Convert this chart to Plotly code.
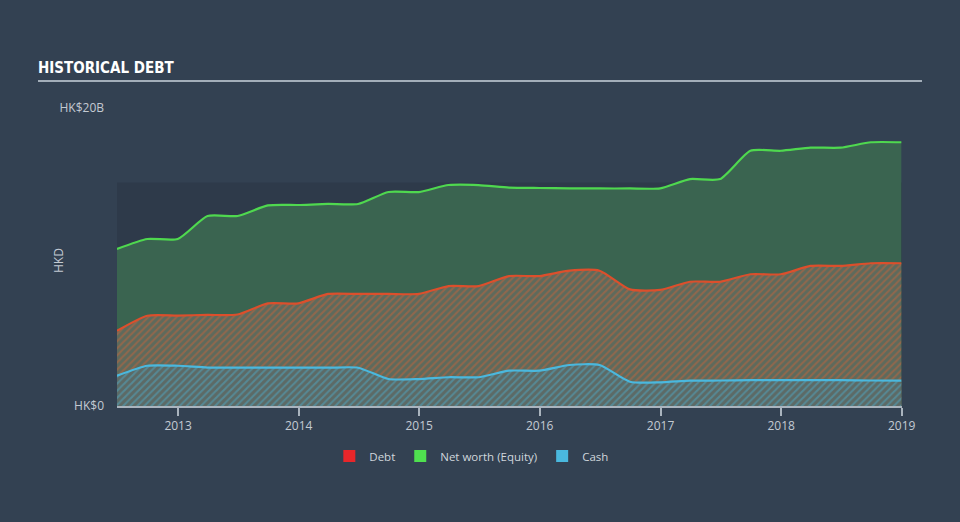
import plotly.graph_objects as go

dates = ["2012-06-30", "2012-09-30", "2012-12-31", "2013-03-31", "2013-06-30", "2013-09-30",
         "2013-12-31", "2014-03-31", "2014-06-30", "2014-09-30", "2014-12-31", "2015-03-31",
         "2015-06-30", "2015-09-30", "2015-12-31", "2016-03-31", "2016-06-30", "2016-09-30",
         "2016-12-31", "2017-03-31", "2017-06-30", "2017-09-30", "2017-12-31", "2018-03-31",
         "2018-06-30", "2018-09-30", "2018-12-31"]

# HK$ billions
equity = [10.54, 11.21, 11.21, 12.75, 12.75, 13.46, 13.49, 13.56, 13.56, 14.36, 14.36, 14.83,
          14.83, 14.66, 14.63, 14.61, 14.60, 14.60, 14.61, 15.23, 15.23, 17.13, 17.13, 17.34,
          17.34, 17.70, 17.70]
debt = [5.05, 6.06, 6.07, 6.11, 6.14, 6.89, 6.89, 7.52, 7.52, 7.52, 7.52, 8.05,
        8.05, 8.72, 8.72, 9.08, 9.08, 7.83, 7.79, 8.34, 8.34, 8.84, 8.84, 9.40,
        9.40, 9.58, 9.58]
cash = [2.03, 2.70, 2.70, 2.58, 2.57, 2.57, 2.57, 2.57, 2.57, 1.81, 1.81, 1.93,
        1.93, 2.37, 2.37, 2.75, 2.75, 1.63, 1.59, 1.70, 1.71, 1.73, 1.74, 1.74,
        1.74, 1.71, 1.70]

y_tickvals = [0, 20]
y_ticktext = ["HK$0", "HK$20B"]
x_tickvals = ["2013-01-01", "2014-01-01", "2015-01-01", "2016-01-01", "2017-01-01", "2018-01-01", "2019-01-01"]
x_ticktext = ["2013", "2014", "2015", "2016", "2017", "2018", "2019"]

legend_names = ["Debt", "Net worth (Equity)", "Cash"]
legend_colors = ["#e8262a", "#4fe04f", "#4ab8de"]

BG = "#334152"
PLOT_BG = "#2e3a4a"
TXT = "#c3cad2"
SMOOTH = 0.6

fig = go.Figure()

fig.add_trace(go.Scatter(
    x=dates, y=equity, mode="lines", line=dict(color="#4fd84f", width=2.2, shape="spline", smoothing=SMOOTH),
    fill="tozeroy", fillcolor="#3a6450", showlegend=False, hoverinfo="skip"))

fig.add_trace(go.Scatter(
    x=dates, y=debt, mode="lines", line=dict(color="#dc4f2c", width=2.2, shape="spline", smoothing=SMOOTH),
    fill="tozeroy",
    fillpattern=dict(shape="/", fgcolor="#c4643c", bgcolor="#5e6a5c", size=5, solidity=0.4),
    showlegend=False, hoverinfo="skip"))

fig.add_trace(go.Scatter(
    x=dates, y=cash, mode="lines", line=dict(color="#4ab8de", width=2.2, shape="spline", smoothing=SMOOTH),
    fill="tozeroy",
    fillpattern=dict(shape="/", fgcolor="#4fa8c4", bgcolor="#5c6a66", size=5, solidity=0.4),
    showlegend=False, hoverinfo="skip"))

for name, col in zip(legend_names, legend_colors):
    fig.add_trace(go.Scatter(x=[None], y=[None], mode="markers", name=name,
                             marker=dict(symbol="square", size=12, color=col)))

fig.update_layout(
    width=960, height=522,
    paper_bgcolor=BG, plot_bgcolor="rgba(0,0,0,0)",
    margin=dict(l=117, r=58, t=108, b=116),
    font=dict(family="Open Sans, Lato, sans-serif", color=TXT, size=12),
    title=dict(text="<b>HISTORICAL DEBT</b>", xref="container", yref="container",
               x=38 / 960, xanchor="left", y=1 - 68 / 522, yanchor="middle",
               font=dict(family="DejaVu Sans Condensed, Liberation Sans Narrow, sans-serif",
                         size=15, color="#ffffff")),
    showlegend=True,
    legend=dict(orientation="h", x=0.452, xanchor="center", y=-0.168, yanchor="middle",
                font=dict(size=11.5, color="#d0d6dc"), bgcolor="rgba(0,0,0,0)",
                itemsizing="trace", traceorder="normal"),
    xaxis=dict(type="date", range=["2012-06-30", "2019-01-02"], tickvals=x_tickvals,
               ticktext=x_ticktext, showgrid=False, zeroline=False,
               showline=True, linecolor="#aab4be", linewidth=1.5,
               ticks="outside", ticklen=8, tickcolor="#aab4be", tickwidth=1.5,
               tickfont=dict(size=12, color=TXT)),
    yaxis=dict(range=[0, 20], tickvals=y_tickvals, ticktext=y_ticktext, showgrid=False,
               zeroline=False, showline=False, ticks="", ticklabelstandoff=12,
               tickfont=dict(size=12, color=TXT)),
    annotations=[
        dict(text="HKD", xref="paper", yref="paper", x=(58 - 117) / 785, y=(406 - 261) / 298,
             xanchor="center", yanchor="middle", textangle=-90, showarrow=False,
             font=dict(size=12, color=TXT)),
    ],
    shapes=[
        dict(type="rect", xref="paper", yref="y", x0=0, x1=1, y0=0, y1=15,
             fillcolor=PLOT_BG, line=dict(width=0), layer="below"),
        dict(type="line", xref="paper", yref="paper", x0=(38 - 117) / 785, x1=(922 - 117) / 785,
             y0=(406 - 81) / 298, y1=(406 - 81) / 298, line=dict(color="#a3aeb9", width=2)),
    ],
)

fig.write_html("out.html")
